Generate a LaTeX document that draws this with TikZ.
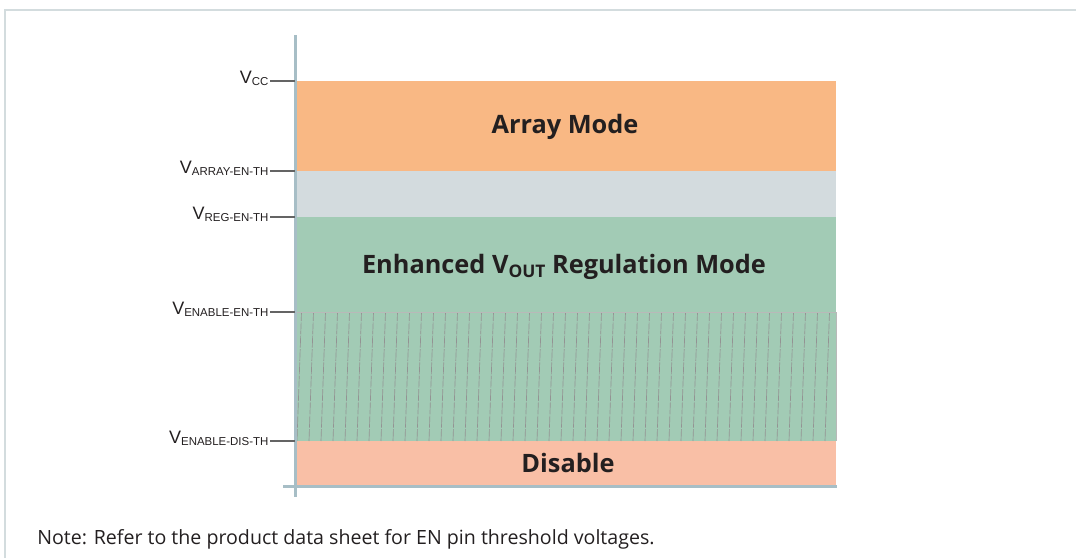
\documentclass[tikz,border=0pt]{standalone}
\usepackage{fontspec}
\setmainfont{Liberation Sans}
\newfontfamily\titlefont{Open Sans}
\usetikzlibrary{calc, positioning}
\definecolor{arrayc}{RGB}{249,184,132}
\definecolor{gapc}{RGB}{211,219,222}
\definecolor{regc}{RGB}{162,203,181}
\definecolor{disc}{RGB}{249,191,166}
\definecolor{axisc}{RGB}{167,190,198}
\definecolor{framec}{RGB}{211,220,222}
\definecolor{tickc}{RGB}{100,100,100}
\definecolor{txtc}{RGB}{35,31,32}
\tikzset{
  axisline/.style={draw=axisc, line width=2.25pt},
  tickline/.style={draw=tickc, line width=1.1pt},
  hatchline/.style={draw=gray!85, line width=0.5pt, dash pattern=on 9pt off 1pt},
  lvl/.style={font=\fontsize{13.5}{14}\selectfont, text=txtc, inner sep=1pt, anchor=base east},
  modetxt/.style={font=\titlefont\bfseries\fontsize{19}{20}\selectfont, text=txtc, anchor=base}
}
\newcommand\subfont{\fontsize{8.6}{9}\selectfont}
\newcommand\thlevel[3]{\coordinate (#1) at (295,#2);\node[lvl] (#1l) at (270,#2+2.5) {V\raisebox{-1.5pt}{\subfont #3}};\draw[tickline] (#1l.east |- #1) -- (#1);}

\begin{document}
\begin{tikzpicture}[x=0.75pt,y=-0.75pt]
\useasboundingbox (0,0) rectangle (1076,558);
\draw[draw=framec, line width=1.5pt] (5,558) -- (5,9.5) -- (1076,9.5);

% bands
\fill[arrayc] (297,81) rectangle (836,171);
\fill[gapc] (297,171) rectangle (836,217);
\fill[regc] (297,217) rectangle (836,441);
\fill[disc] (297,441) rectangle (836,485);

% hatched part
\begin{scope}
\clip (297,312) rectangle (836,441);
\foreach \x in {297,309,...,849}
  \draw[hatchline] (\x,441) -- (\x+4.5,312);
\end{scope}
\draw[draw=gray!55, line width=0.5pt] (297,312) -- (836,312) -- (836,441);

% axes
\draw[axisline] (295,35) -- (295,497);
\draw[axisline] (283,486) -- (837,486);

\thlevel{vcc}{81}{CC}
\thlevel{varray}{171}{ARRAY-EN-TH}
\thlevel{vreg}{217}{REG-EN-TH}
\thlevel{venen}{312}{ENABLE-EN-TH}
\thlevel{vendis}{441}{ENABLE-DIS-TH}

\node[modetxt] (arraytxt) at (565,133) {Array Mode};
\node[modetxt] (regtxt) at (564,273) {Enhanced V\raisebox{-3pt}{\fontsize{13}{13}\selectfont OUT} Regulation Mode};
\node[modetxt] (distxt) at (568,472) {Disable};

\node[font=\titlefont\fontsize{14.7}{15}\selectfont, text=txtc, anchor=base west, inner sep=0pt] (note) at (37,544) {Note: Refer to the product data sheet for EN pin threshold voltages.};
\end{tikzpicture}
\end{document}
